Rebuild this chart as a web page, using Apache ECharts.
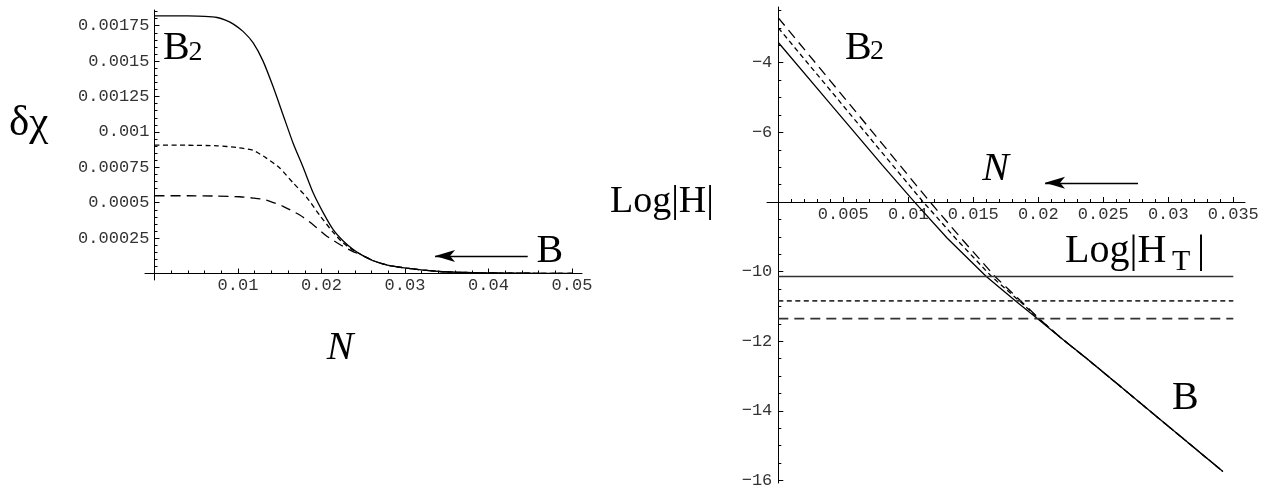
<!DOCTYPE html>
<html>
<head>
<meta charset="utf-8">
<script src="https://cdn.jsdelivr.net/npm/echarts@6/dist/echarts.min.js"></script>
<style>
html,body{margin:0;padding:0;background:#fff;}
#c{width:1273px;height:492px;}
</style>
</head>
<body>
<div id="c"></div>
<script>
// ---------- LEFT PANEL DATA: deltaChi vs N ----------
const leftSolidN = [0, 0.004, 0.006, 0.0075, 0.0085, 0.0094, 0.0106, 0.0118, 0.013, 0.0142, 0.0154, 0.0166, 0.0178, 0.019, 0.0202, 0.0214, 0.0226, 0.0238];
const leftSolidV = [0.00182, 0.001819, 0.001816, 0.001808, 0.00179, 0.001763, 0.00171, 0.00163, 0.0015, 0.00132, 0.00112, 0.00092, 0.00075, 0.00057, 0.00043, 0.00031, 0.00023, 0.00017];
const leftDottedN = [0, 0.004, 0.0075, 0.0098, 0.0118, 0.0134, 0.015, 0.0166, 0.0182, 0.0198, 0.0214, 0.0226, 0.0238];
const leftDottedV = [0.000907, 0.000906, 0.000902, 0.00089, 0.00087, 0.000815, 0.000745, 0.00064, 0.00054, 0.00041, 0.00029, 0.000215, 0.000165];
const leftDashedN = [0, 0.004, 0.0075, 0.0102, 0.0118, 0.0134, 0.0154, 0.0174, 0.019, 0.0206, 0.0222, 0.0236];
const leftDashedV = [0.000549, 0.000549, 0.000547, 0.000542, 0.000533, 0.000519, 0.000474, 0.000413, 0.000345, 0.000265, 0.000205, 0.00016];
const leftTailN = [0.025, 0.0262, 0.028, 0.0302, 0.0322, 0.0342, 0.0362, 0.0382, 0.042, 0.046, 0.05];
const leftTailV = [0.000125, 0.00009, 0.000058, 0.000038, 0.000024, 0.000014, 0.000009, 0.000006, 0.000003, 0.0000015, 0.0000008];

// ---------- RIGHT PANEL DATA: Log|H| vs N ----------
const rightSolidN = [0, 0.004, 0.008, 0.0105, 0.013, 0.016, 0.0183, 0.0199];
const rightSolidV = [-3.42, -5.18, -6.94, -8.01, -9.04, -10.14, -10.86, -11.34];
const rightDottedN = [0, 0.004, 0.008, 0.01115, 0.0137, 0.0164, 0.0186, 0.0200];
const rightDottedV = [-3.0, -4.79, -6.59, -8.0, -9.07, -10.14, -10.86, -11.34];
const rightDashedN = [0, 0.004, 0.008, 0.01167, 0.0142, 0.01667, 0.0187, 0.02003];
const rightDashedV = [-2.71, -4.52, -6.33, -8.0, -9.1, -10.14, -10.86, -11.34];
const rightTailN = [0.0217, 0.0237, 0.026, 0.030, 0.0342];
const rightTailV = [-11.89, -12.49, -13.2, -14.44, -15.74];
// horizontal Log|H_T| levels (solid, dotted, dashed)
const htLevels = [-10.14, -10.84, -11.35];
const htRangeN = [0, 0.035];

// ---------- TICKS ----------
const leftXTicks = [0.01, 0.02, 0.03, 0.04, 0.05];
const leftYTicks = [0.00025, 0.0005, 0.00075, 0.001, 0.00125, 0.0015, 0.00175];
const rightXTicks = [0.005, 0.01, 0.015, 0.02, 0.025, 0.03, 0.035];
const rightYTicks = [-4, -6, -8, -10, -12, -14, -16];
const rightYLabels = [-4, -6, -10, -12, -14, -16];

// ---------- ANNOTATION ARROWS (data coords: from -> to) ----------
const leftArrow = [[0.0447, 0.000124], [0.0336, 0.000124]];
const rightArrow = [[0.02767, -7.45], [0.02052, -7.45]];

function minorTicks(from, to, step, majors) {
  const out = [];
  const n = Math.round((to - from) / step);
  for (let i = 0; i <= n; i++) {
    const v = +(from + i * step).toFixed(8);
    if (!majors.some(m => Math.abs(m - v) < step / 10)) out.push(v);
  }
  return out;
}
const leftXMinor = minorTicks(0.002, 0.05, 0.002, leftXTicks);
const leftYMinor = minorTicks(0.00005, 0.00185, 0.00005, leftYTicks);
const rightXMinor = minorTicks(0.001, 0.035, 0.001, rightXTicks);
const rightYMinor = minorTicks(-16, -2.5, 0.5, rightYTicks);

function zip(a, b) { return a.map((x, i) => [x, b[i]]); }
function fmt(v) { return String(parseFloat(Number(v).toPrecision(6))).replace('-', '\u2212'); }

const LX = [-0.00114, 0.0512], LY = [-0.0000459, 0.001861];
const RX = [-0.00087, 0.0359], RY = [-16.07, -2.4];

const tickFont = { fontFamily: 'Liberation Mono', fontSize: 17, color: '#333' };

const grids = [
  { left: 145, top: 10, width: 437, height: 270 },      // 0 left plot
  { left: 145, top: 272.5, width: 437, height: 1 },     // 1 left x major
  { left: 145, top: 272.5, width: 437, height: 1 },     // 2 left x minor
  { left: 154.5, top: 10, width: 1, height: 270 },      // 3 left y major
  { left: 154.5, top: 10, width: 1, height: 270 },      // 4 left y minor
  { left: 767, top: 7, width: 478, height: 476 },       // 5 right plot
  { left: 767, top: 201, width: 478, height: 1 },       // 6 right x major
  { left: 767, top: 201, width: 478, height: 1 },       // 7 right x minor
  { left: 778.3, top: 7, width: 1, height: 476 },       // 8 right y major
  { left: 778.3, top: 7, width: 1, height: 476 }        // 9 right y minor
];

function hiddenAxis(gi, range) {
  const a = { gridIndex: gi, type: 'value', show: false, splitLine: { show: false } };
  if (range) { a.min = range[0]; a.max = range[1]; }
  return a;
}
function tickAxis(gi, range, pos, majors, labels, len, showLine, margin) {
  return {
    gridIndex: gi, type: 'value', min: range[0], max: range[1], position: pos,
    axisLine: { show: showLine, onZero: false, lineStyle: { color: '#000', width: 1 } },
    axisTick: { show: true, inside: true, length: len, customValues: majors, lineStyle: { color: '#000', width: 1 } },
    axisLabel: labels ? Object.assign({ show: true, customValues: labels, margin: margin, formatter: fmt }, tickFont) : { show: false },
    splitLine: { show: false }
  };
}

const xAxes = [
  hiddenAxis(0, LX),
  tickAxis(1, LX, 'bottom', leftXTicks, leftXTicks, 5, true, 3),
  tickAxis(2, LX, 'bottom', leftXMinor, null, 3, false),
  hiddenAxis(3), hiddenAxis(4),
  hiddenAxis(5, RX),
  tickAxis(6, RX, 'bottom', rightXTicks, rightXTicks, 5, true, 4),
  tickAxis(7, RX, 'bottom', rightXMinor, null, 3, false),
  hiddenAxis(8), hiddenAxis(9)
];
const yAxes = [
  hiddenAxis(0, LY),
  hiddenAxis(1), hiddenAxis(2),
  tickAxis(3, LY, 'left', leftYTicks, leftYTicks, 5, true, 5),
  tickAxis(4, LY, 'left', leftYMinor, null, 3, false),
  hiddenAxis(5, RY),
  hiddenAxis(6), hiddenAxis(7),
  tickAxis(8, RY, 'left', rightYTicks, rightYLabels, 5, true, 6),
  tickAxis(9, RY, 'left', rightYMinor, null, 3, false)
];

const DOT = [5, 3.5], DASH = [10, 6];
function lineSeries(idx, data, type, extra) {
  return Object.assign({
    type: 'line', xAxisIndex: idx, yAxisIndex: idx, data: data,
    showSymbol: false, symbol: 'none', smooth: 0.2,
    lineStyle: { color: '#000', width: 1.3, type: type }, silent: true, z: 3
  }, extra || {});
}
function arrowMark(arr) {
  return {
    silent: true, animation: false, symbol: ['none', 'arrow'],
    lineStyle: { color: '#000', width: 1.3, type: 'solid' },
    itemStyle: { color: '#000' },
    label: { show: false }, emphasis: { disabled: true },
    data: [[{ coord: arr[0], symbol: 'none' }, { coord: arr[1], symbol: 'arrow', symbolSize: [9, 20] }]]
  };
}

const series = [
  lineSeries(0, zip(leftSolidN.concat(leftTailN), leftSolidV.concat(leftTailV)), 'solid', { markLine: arrowMark(leftArrow) }),
  lineSeries(0, zip(leftDottedN.concat(leftTailN), leftDottedV.concat(leftTailV)), DOT),
  lineSeries(0, zip(leftDashedN.concat(leftTailN), leftDashedV.concat(leftTailV)), DASH),
  lineSeries(5, zip(rightSolidN.concat(rightTailN), rightSolidV.concat(rightTailV)), 'solid', { smooth: false, markLine: arrowMark(rightArrow) }),
  lineSeries(5, zip(rightDottedN.concat(rightTailN), rightDottedV.concat(rightTailV)), DOT, { smooth: false }),
  lineSeries(5, zip(rightDashedN.concat(rightTailN), rightDashedV.concat(rightTailV)), DASH, { smooth: false }),
  lineSeries(5, htRangeN.map(n => [n, htLevels[0]]), 'solid', { smooth: false, lineStyle: { color: '#333', width: 1.6, type: 'solid' } }),
  lineSeries(5, htRangeN.map(n => [n, htLevels[1]]), DOT, { smooth: false, lineStyle: { color: '#333', width: 1.6, type: DOT } }),
  lineSeries(5, htRangeN.map(n => [n, htLevels[2]]), DASH, { smooth: false, lineStyle: { color: '#333', width: 1.8, type: DASH } })
];

function txt(x, y, s, size, opts) {
  return {
    type: 'text', x: x, y: y, silent: true, z: 10,
    style: Object.assign({
      text: s, fontFamily: 'Liberation Serif', fontSize: size, fill: '#000',
      align: 'left', verticalAlign: 'middle'
    }, opts || {})
  };
}
const graphic = [
  txt(9, 124, '\u03b4\u03c7', 43, { fontFamily: "'Liberation Serif', 'DejaVu Serif', serif" }),
  txt(340, 348, 'N', 40, { fontStyle: 'italic', align: 'center' }),
  txt(163, 48.5, 'B', 40),
  txt(188.5, 52.3, '2', 28),
  txt(536.5, 251.5, 'B', 40),
  txt(845, 48.2, 'B', 40),
  txt(870, 52, '2', 28),
  txt(1172, 398.5, 'B', 40),
  txt(995.5, 169.5, 'N', 40, { fontStyle: 'italic', align: 'center' }),
  txt(610, 202.5, 'Log|H|', 38),
  txt(1065, 251.5, 'Log|H', 40),
  txt(1172, 262, 'T', 30),
  txt(1197, 251.5, '|', 40)
];

const chart = echarts.init(document.getElementById('c'), null, { renderer: 'canvas' });
chart.setOption({
  animation: false,
  backgroundColor: '#fff',
  grid: grids,
  xAxis: xAxes,
  yAxis: yAxes,
  series: series,
  graphic: graphic
});
</script>
</body>
</html>
